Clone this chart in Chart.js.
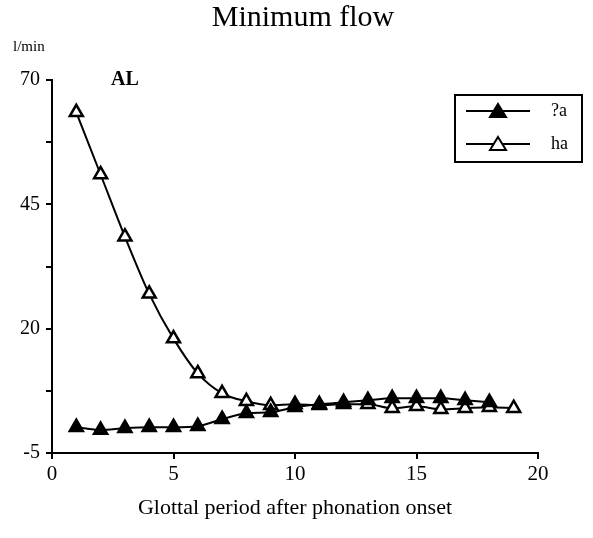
<!DOCTYPE html>
<html>
<head>
<meta charset="utf-8">
<script src="https://cdn.jsdelivr.net/npm/chart.js@4/dist/chart.umd.min.js"></script>
<style>
  html, body { margin: 0; padding: 0; background: #fff; }
  #wrap { width: 593px; height: 538px; }
</style>
</head>
<body>
<div id="wrap"><canvas id="graficoFlujo"></canvas></div>
<script>
const periodos = [1, 2, 3, 4, 5, 6, 7, 8, 9, 10, 11, 12, 13, 14, 15, 16, 17, 18, 19];
const serieGlotal = [0.2, -0.4, 0, 0.2, 0.2, 0.4, 1.8, 3.0, 3.2, 4.2, 4.8, 5.2, 5.6, 6.0, 6.0, 6.0, 5.6, 5.2];
const serieHa = [63.5, 51, 38.5, 27, 18, 11, 7, 5.4, 4.6, 4.8, 4.6, 4.8, 4.8, 4.0, 4.4, 3.8, 4.0, 4.2, 4.0];
const etiquetasY = [70, 45, 20, -5];
const nombresSeries = ["?a", "ha"];

const fuente = "'Liberation Serif', 'Times New Roman', serif";

const toPuntos = (valores) => valores.map((v, i) => ({ x: periodos[i], y: v }));

// texto extra y leyenda con recuadro
const extras = {
    id: "extras",
    afterDraw(chart) {
        const ctx = chart.ctx;
        ctx.save();
        ctx.fillStyle = "#000";
        ctx.textBaseline = "middle";
        ctx.textAlign = "center";
        ctx.font = "30px " + fuente;
        ctx.fillText("Minimum flow", 303, 18);
        ctx.font = "15px " + fuente;
        ctx.textAlign = "left";
        ctx.fillText("l/min", 13, 47);
        ctx.font = "bold 20px " + fuente;
        ctx.fillText("AL", 111, 80);

        // leyenda
        ctx.strokeStyle = "#000";
        ctx.lineWidth = 2;
        ctx.strokeRect(455, 95, 127, 67);
        chart.data.datasets.forEach((ds, i) => {
            const y = 111 + i * 33;
            ctx.beginPath();
            ctx.moveTo(466, y);
            ctx.lineTo(530, y);
            ctx.stroke();
            ctx.beginPath();
            ctx.moveTo(498, y - 7);
            ctx.lineTo(506, y + 6);
            ctx.lineTo(490, y + 6);
            ctx.closePath();
            ctx.fillStyle = ds.pointBackgroundColor;
            ctx.fill();
            ctx.stroke();
            ctx.fillStyle = "#000";
            ctx.font = "18px " + fuente;
            ctx.fillText(nombresSeries[i], 551, y);
        });
        ctx.restore();
    },
};

const estiloSerie = (relleno) => ({
    borderColor: "#000",
    borderWidth: 2,
    pointStyle: "triangle",
    pointRadius: 7.5,
    pointHoverRadius: 7.5,
    pointBorderWidth: 2.5,
    pointBorderColor: "#000",
    pointBackgroundColor: relleno,
    tension: 0.35,
    cubicInterpolationMode: "monotone",
    fill: false,
});

const configFlujo = {
    type: "line",
    data: {
        datasets: [
            { label: nombresSeries[0], data: toPuntos(serieGlotal), ...estiloSerie("#000") },
            { label: nombresSeries[1], data: toPuntos(serieHa), ...estiloSerie("#fff") },
        ],
    },
    options: {
        responsive: true,
        maintainAspectRatio: false,
        animation: false,
        layout: {
            padding: { top: 80, right: 55, bottom: 0, left: 0 },
        },
        plugins: {
            legend: { display: false },
            title: { display: false },
            tooltip: { enabled: false },
        },
        scales: {
            x: {
                type: "linear",
                min: 0,
                max: 20,
                ticks: {
                    stepSize: 5,
                    color: "#000",
                    padding: 3,
                    font: { family: fuente, size: 21 },
                },
                grid: {
                    drawOnChartArea: false,
                    drawTicks: true,
                    tickLength: 6,
                    color: "#000",
                    lineWidth: 2,
                },
                border: { color: "#000", width: 2 },
                title: {
                    display: true,
                    text: "Glottal period after phonation onset",
                    color: "#000",
                    font: { family: fuente, size: 22 },
                    padding: { top: 10, bottom: 17 },
                },
                afterFit: (scale) => {
                    scale.height = 85;
                },
            },
            y: {
                type: "linear",
                min: -5,
                max: 70,
                ticks: {
                    stepSize: 12.5,
                    color: "#000",
                    padding: 6,
                    font: { family: fuente, size: 20 },
                    callback: (v) => (etiquetasY.includes(v) ? v : ""),
                },
                grid: {
                    drawOnChartArea: false,
                    drawTicks: true,
                    tickLength: 6,
                    color: "#000",
                    lineWidth: 2,
                },
                border: { color: "#000", width: 2 },
                afterFit: (scale) => {
                    scale.width = 52;
                },
            },
        },
    },
    plugins: [extras],
};

const chartFlujo = new Chart(document.getElementById("graficoFlujo"), configFlujo);
</script>
</body>
</html>
